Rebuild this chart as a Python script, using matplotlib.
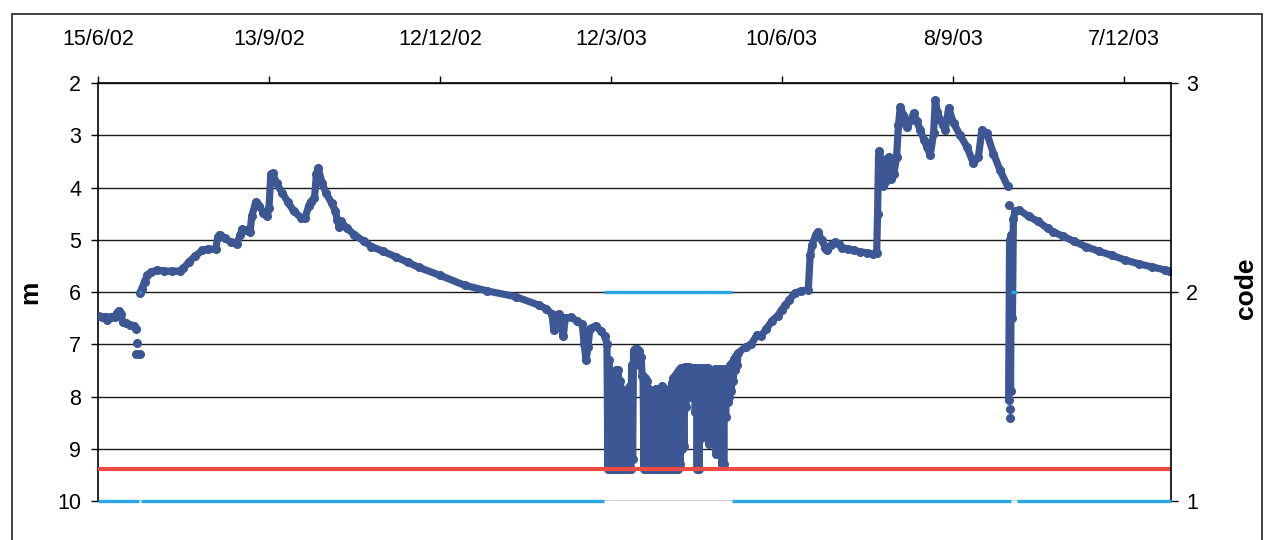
import datetime as dt
import numpy as np
import matplotlib
matplotlib.use('Agg')
import matplotlib.pyplot as plt
import matplotlib.dates as mdates
from matplotlib.patches import Rectangle

plt.rcParams['font.family'] = ['Liberation Sans', 'DejaVu Sans']

start = dt.date(2002, 6, 15)
n_days = 565
tick_days = [0, 90, 180, 270, 360, 450, 540]

# water level (m below reference), day offsets from start
seg_a_day = [0, 2, 4, 5, 7, 9, 10, 11, 12, 13, 15, 17, 19, 20]
seg_a_m = [6.45, 6.47, 6.47, 6.53, 6.47, 6.47, 6.40, 6.36, 6.42, 6.58, 6.60, 6.63, 6.65, 6.70]

dash_day = [19.8, 22.0]
dash_m = [7.19, 7.19]

seg_b_day = [22, 23, 24.5, 26, 28, 31, 35, 39, 43, 45, 48, 51, 55, 58, 62, 63, 64, 67, 70, 73,
             75, 76, 78, 80, 81, 83, 85, 87, 89, 90, 91, 92, 94, 97, 100, 103, 107, 109, 111, 112,
             114, 115, 116, 118, 120, 123, 125, 126, 127, 128, 131, 135, 140, 144, 150, 157, 163, 169, 180, 193,
             205, 220, 232, 236, 239, 240, 241, 243, 245, 246, 249, 252, 255, 256, 257, 258, 259, 262, 265, 267]
seg_b_m = [6.02, 5.95, 5.80, 5.68, 5.62, 5.58, 5.60, 5.60, 5.60, 5.55, 5.42, 5.32, 5.20, 5.18, 5.18, 4.95, 4.90, 4.97, 5.05, 5.08,
           4.90, 4.80, 4.82, 4.85, 4.55, 4.28, 4.35, 4.48, 4.55, 4.40, 3.75, 3.73, 3.92, 4.10, 4.28, 4.45, 4.58, 4.58, 4.35, 4.27,
           4.20, 3.75, 3.63, 3.92, 4.10, 4.30, 4.45, 4.62, 4.75, 4.65, 4.78, 4.90, 5.03, 5.13, 5.22, 5.33, 5.43, 5.53, 5.68, 5.87,
           5.98, 6.09, 6.25, 6.32, 6.42, 6.72, 6.45, 6.42, 6.85, 6.50, 6.48, 6.55, 6.62, 7.00, 7.30, 7.05, 6.70, 6.65, 6.75, 6.85]

# pumping period: daily upper and lower readings (days 268-336)
dd_first = 268
dd_top = [7.00, 7.30, 7.56, 7.60, 7.55, 7.50, 7.50, 7.70, 7.85, 8.00,
          8.00, 7.90, 7.80, 7.40, 7.12, 7.10, 7.10, 7.12, 7.25, 7.60,
          7.65, 7.70, 7.85, 8.00, 8.00, 7.95, 7.85, 7.85, 7.85, 7.80,
          7.85, 7.90, 7.90, 7.85, 7.75, 7.65, 7.60, 7.55, 7.50, 7.45,
          7.45, 7.43, 7.43, 7.43, 7.45, 7.45, 7.45, 7.45, 7.45, 7.45,
          7.45, 7.50, 7.45, 7.45, 7.60, 8.00, 7.70, 7.48, 7.48, 7.48,
          7.48, 7.50, 7.48, 7.50, 7.52, 7.40, 7.35, 7.28, 7.22]
dd_low = [9.38, 9.38, 9.38, 9.38, 9.38, 9.38, 9.38, 9.38, 9.38, 9.38,
          9.38, 9.38, 9.38, 9.20, 7.40, 7.20, 7.15, 7.30, 7.60, 9.38,
          9.38, 9.38, 9.38, 9.38, 9.38, 9.38, 9.38, 9.38, 9.38, 9.38,
          9.38, 9.38, 9.38, 9.38, 9.38, 9.38, 9.38, 9.38, 9.30, 9.00,
          8.95, 8.20, 8.00, 7.90, 8.00, 7.90, 8.30, 9.38, 9.38, 8.80,
          8.20, 8.00, 8.70, 8.90, 8.60, 8.40, 8.80, 9.10, 8.20, 7.90,
          9.30, 9.30, 8.40, 8.10, 8.00, 7.90, 7.70, 7.50, 7.40]

rc_day = [337, 341, 344, 347, 349, 352, 355, 358, 360, 362, 364, 367, 370, 374, 375, 376, 378, 379, 381, 383,
          384, 386, 388, 390, 392, 395, 398, 401, 405, 408, 410, 410.5, 411, 411.5, 412.5, 413.5, 414.5, 415.5, 416.5, 417.5,
          419, 420.5, 421.5, 422.5, 424, 426, 428, 429.5, 431, 433, 435, 436.5, 438.2, 440, 440.9, 442, 443.5, 445, 446.1, 447.9,
          450.5, 454, 457.5, 461, 463.6, 465.4, 468, 471.5, 475, 479]
rc_m = [7.17, 7.05, 7.00, 6.82, 6.85, 6.70, 6.55, 6.45, 6.34, 6.25, 6.15, 6.02, 5.98, 5.96, 5.30, 5.10, 4.90, 4.85, 5.00, 5.15,
        5.20, 5.10, 5.05, 5.08, 5.15, 5.18, 5.20, 5.23, 5.25, 5.27, 5.26, 4.50, 3.40, 3.31, 3.70, 3.98, 3.90, 3.45, 3.41, 3.84,
        3.75, 3.41, 2.80, 2.45, 2.62, 2.84, 2.70, 2.58, 2.72, 2.90, 3.10, 3.22, 3.38, 2.96, 2.33, 2.55, 2.71, 2.80, 2.90, 2.48,
        2.77, 3.00, 3.22, 3.54, 3.41, 2.90, 2.96, 3.35, 3.67, 3.98]

tail_day = [479.5, 480, 480.5, 481, 481.5, 482, 483, 485, 490, 495, 500, 503, 508, 514, 520, 527, 534, 541, 548, 555, 562, 564]
tail_m = [8.07, 5.0, 7.9, 4.9, 6.5, 4.6, 4.45, 4.43, 4.55, 4.65, 4.78, 4.85, 4.93, 5.03, 5.13, 5.22, 5.30, 5.39, 5.46, 5.52, 5.58, 5.60]

spot_day = [20.3, 479.5, 480.2, 480.2]
spot_m = [6.97, 4.33, 8.24, 8.42]

pump_level = 9.38

# status code (right axis)
code_start = [0, 21.5, 22.5, 266.5, 334, 481, 484]
code_end = [21.5, 22.5, 266.5, 334, 481, 484, n_days]
code_val = [1, 2, 1, 2, 1, 2, 1]

t0 = mdates.date2num(start)


def tx(days):
    return t0 + np.asarray(days, dtype=float)


# interleave daily upper / lower readings of the pumping period
dd_day = []
dd_m = []
for i in range(len(dd_top)):
    dd_day += [dd_first + i, dd_first + i + 0.5]
    dd_m += [dd_top[i], dd_low[i]]
main_day = seg_b_day + dd_day + rc_day
main_m = seg_b_m + dd_m + rc_m

blue = '#3d5795'
cyan = '#2aa6e2'
red = '#ec4a42'

fig = plt.figure(figsize=(12.66, 5.4), dpi=100)
ax = fig.add_axes([98 / 1266, 1 - 501 / 540, (1171 - 98) / 1266, (501 - 83) / 540])

line_kw = dict(color=blue, lw=5.2, marker='o', ms=5.5, solid_capstyle='round', solid_joinstyle='round', zorder=3)
ax.plot(tx(seg_a_day), seg_a_m, **line_kw)
ax.plot(tx(dash_day), dash_m, **line_kw)
ax.plot(tx(main_day), main_m, **line_kw)
ax.plot(tx(tail_day), tail_m, **line_kw)
ax.plot(tx(spot_day), spot_m, 'o', color=blue, ms=5.5, zorder=3)

ax.axhline(pump_level, color=red, lw=3, zorder=4)

ax.set_ylim(10, 2)
ax.set_yticks(range(2, 11))
ax.set_xlim(t0, t0 + n_days)
ax.xaxis.tick_top()
ax.set_xticks(tx(tick_days))
labels = []
for d in tick_days:
    day = start + dt.timedelta(days=d)
    labels.append('%d/%d/%s' % (day.day, day.month, day.strftime('%y')))
ax.set_xticklabels(labels)

ax.grid(axis='y', color='#1a1a1a', lw=1.0)
ax.set_axisbelow(True)
for s in ['bottom', 'right']:
    ax.spines[s].set_visible(False)
ax.spines['left'].set_linewidth(1.2)
ax.spines['top'].set_linewidth(1.2)
ax.tick_params(axis='x', direction='out', length=5, width=1, pad=19, labelsize=15.5, top=True, bottom=False)
ax.tick_params(axis='y', direction='out', length=5, width=1, pad=7, labelsize=15.5)
ax.set_ylabel('m', fontsize=19, fontweight='bold')
ax.yaxis.set_label_coords(-0.052, 0.5)

ax2 = ax.twinx()
ax2.hlines(code_val, tx(code_start), tx(code_end), color=cyan, lw=2.4, clip_on=False, zorder=5)
ax2.set_ylim(1, 3)
ax2.set_yticks([1, 2, 3])
for s in ['bottom', 'top', 'left']:
    ax2.spines[s].set_visible(False)
ax2.spines['right'].set_linewidth(1.2)
ax2.tick_params(axis='y', direction='out', length=5, width=1, pad=6, labelsize=15.5)
ax2.set_ylabel('code', fontsize=19, fontweight='bold')
ax2.yaxis.set_label_coords(1.059, 0.51)

# scanned chart frame
fig.patches.append(Rectangle((12 / 1266, -0.05), (1262 - 12) / 1266, 1.05 - 14 / 540,
                             transform=fig.transFigure, fill=False, edgecolor='#222222', lw=1.2))

fig.savefig('out.png', dpi=100)
